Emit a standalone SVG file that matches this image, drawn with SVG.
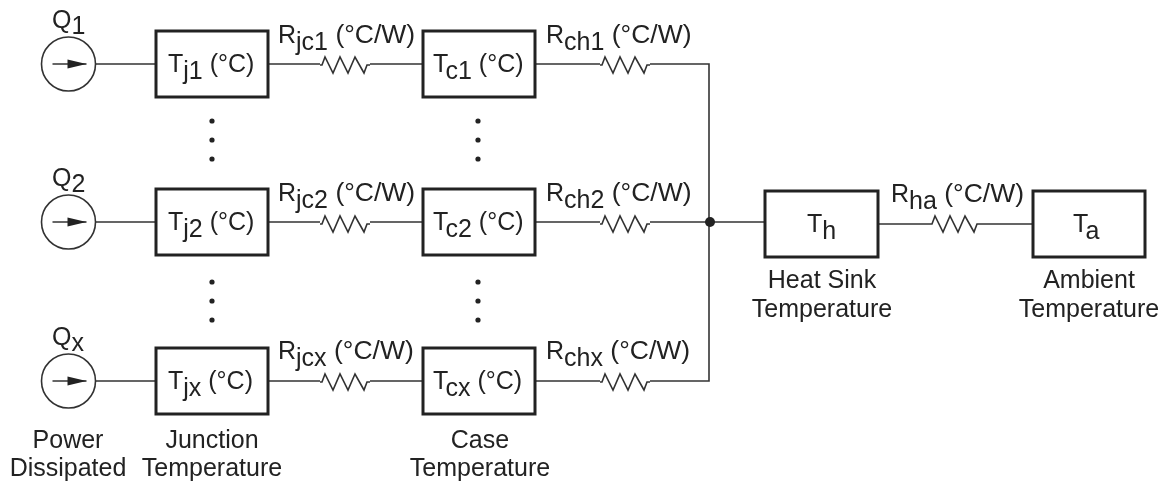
<svg xmlns="http://www.w3.org/2000/svg" width="1174" height="481" viewBox="0 0 1174 481">
<defs>
<style>
text{font-family:"Liberation Sans",Arial,sans-serif;font-size:25px;fill:#222}
.m{text-anchor:middle}
.u{font-size:26.500px}
.b{fill:#fff;stroke:#222;stroke-width:3}
.c{fill:#fff;stroke:#333;stroke-width:1.6}
.w{fill:none;stroke:#333;stroke-width:1.6}
.d{fill:#222}
</style>
<filter id="soft" x="0" y="0" width="100%" height="100%"><feGaussianBlur stdDeviation="0.5"/></filter>
<path id="res" class="w" d="M0 0H2L5 -8L13 8L20 -8L28 8L35 -8L44 8L47 0H50"/>
<g id="src"><circle class="c" cx="0" cy="0" r="27"/><path class="w" d="M-16 0H18"/><path class="d" d="M18 0L-1 -4.500L-1 4.500Z"/></g>
<g id="vd"><circle class="d" cx="0" cy="0" r="2.600"/><circle class="d" cx="0" cy="19" r="2.600"/><circle class="d" cx="0" cy="38" r="2.600"/></g>
</defs>
<g filter="url(#soft)">
<rect width="1174" height="481" fill="#fff"/>
<g id="connectors">
<path class="w" d="M95 64H156M268 64H320M370 64H423M535 64H600M650 64H709V381H650M95 222H156M268 222H320M370 222H423M535 222H600M650 222H765M95 381H156M268 381H320M370 381H423M535 381H600M878 224H930M980 224H1033"/>
<use href="#res" x="320" y="65"/><use href="#res" x="600" y="65"/>
<use href="#res" x="320" y="224"/><use href="#res" x="600" y="224"/>
<use href="#res" x="320" y="382"/><use href="#res" x="600" y="382"/>
<use href="#res" x="930" y="224"/>
<circle class="d" cx="710" cy="222" r="5"/>
</g>
<g id="q1"><use href="#src" x="68.500" y="64"/><text x="52" y="28">Q<tspan dy="6">1</tspan></text></g>
<g id="q2"><use href="#src" x="68.500" y="222"/><text x="52" y="186">Q<tspan dy="6">2</tspan></text></g>
<g id="qx"><use href="#src" x="68.500" y="381"/><text x="52" y="345">Q<tspan dy="6">x</tspan></text></g>
<g id="tj1"><rect class="b" x="156" y="31" width="112" height="66"/><text x="168" y="72">T<tspan dy="7">j1</tspan><tspan dy="-7"> (°C)</tspan></text></g>
<g id="tj2"><rect class="b" x="156" y="189" width="112" height="66"/><text x="168" y="230">T<tspan dy="7">j2</tspan><tspan dy="-7"> (°C)</tspan></text></g>
<g id="tjx"><rect class="b" x="156" y="348" width="112" height="66"/><text x="168" y="389">T<tspan dy="7">jx</tspan><tspan dy="-7"> (°C)</tspan></text></g>
<g id="tc1"><rect class="b" x="423" y="31" width="112" height="66"/><text x="433" y="72">T<tspan dy="7">c1</tspan><tspan dy="-7"> (°C)</tspan></text></g>
<g id="tc2"><rect class="b" x="423" y="189" width="112" height="66"/><text x="433" y="230">T<tspan dy="7">c2</tspan><tspan dy="-7"> (°C)</tspan></text></g>
<g id="tcx"><rect class="b" x="423" y="348" width="112" height="66"/><text x="433" y="389">T<tspan dy="7">cx</tspan><tspan dy="-7"> (°C)</tspan></text></g>
<g id="th"><rect class="b" x="765" y="191" width="113" height="66"/><text x="807" y="232">T<tspan dy="7">h</tspan></text></g>
<g id="ta"><rect class="b" x="1033" y="191" width="112" height="66"/><text x="1073" y="232">T<tspan dy="7">a</tspan></text></g>
<g id="labels">
<text x="278" y="43">R<tspan dy="7">jc1</tspan><tspan class="u" dy="-7"> (°C/W)</tspan></text>
<text x="278" y="201">R<tspan dy="7">jc2</tspan><tspan class="u" dy="-7"> (°C/W)</tspan></text>
<text x="278" y="359">R<tspan dy="7">jcx</tspan><tspan class="u" dy="-7"> (°C/W)</tspan></text>
<text x="546" y="43">R<tspan dy="7">ch1</tspan><tspan class="u" dy="-7"> (°C/W)</tspan></text>
<text x="546" y="201">R<tspan dy="7">ch2</tspan><tspan class="u" dy="-7"> (°C/W)</tspan></text>
<text x="546" y="359">R<tspan dy="7">chx</tspan><tspan class="u" dy="-7"> (°C/W)</tspan></text>
<text x="891" y="202">R<tspan dy="7">ha</tspan><tspan class="u" dy="-7"> (°C/W)</tspan></text>
<text class="m" x="68" y="448">Power</text><text class="m" x="68" y="476">Dissipated</text>
<text class="m" x="212" y="448">Junction</text><text class="m" x="212" y="476">Temperature</text>
<text class="m" x="480" y="448">Case</text><text class="m" x="480" y="476">Temperature</text>
<text class="m" x="822" y="288">Heat Sink</text><text class="m" x="822" y="317">Temperature</text>
<text class="m" x="1089" y="288">Ambient</text><text class="m" x="1089" y="317">Temperature</text>
</g>
<g id="dots">
<use href="#vd" x="212" y="121"/><use href="#vd" x="478" y="121"/>
<use href="#vd" x="212" y="282"/><use href="#vd" x="478" y="282"/>
</g>
</g>
</svg>
